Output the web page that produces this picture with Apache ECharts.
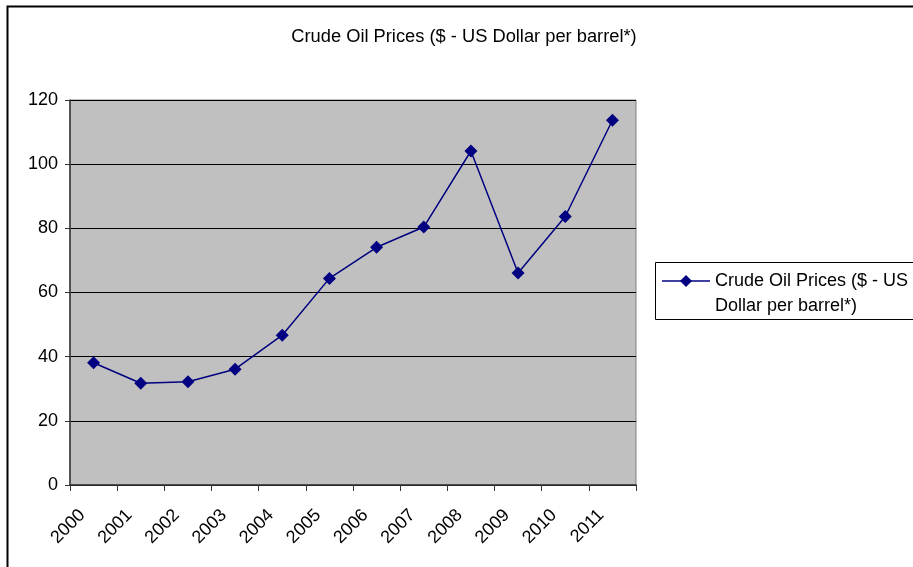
<!DOCTYPE html>
<html><head><meta charset="utf-8">
<script src="https://cdn.jsdelivr.net/npm/echarts@6/dist/echarts.min.js"></script>
<style>html,body{margin:0;padding:0;background:#fff}#c{width:913px;height:567px}</style>
</head><body><div id="c"></div>
<script>
const years = ['2000','2001','2002','2003','2004','2005','2006','2007','2008','2009','2010','2011'];
const prices = [38.1, 31.7, 32.2, 36.1, 46.7, 64.4, 74.1, 80.4, 104.1, 66.1, 83.7, 113.7];
const seriesName = 'Crude Oil Prices ($ - US Dollar per barrel*)';
const legendLabel = 'Crude Oil Prices ($ - US\nDollar per barrel*)';
const yTicks = [0, 20, 40, 60, 80, 100, 120];

const chart = echarts.init(document.getElementById('c'));
const font = 'Liberation Sans, Arial, sans-serif';
chart.setOption({
  animation: false,
  backgroundColor: '#fff',
  graphic: [
    {type:'rect', shape:{x:7.5,y:6.5,width:1000,height:1000}, style:{fill:'none', stroke:'#000', lineWidth:2}, z:100},
    {type:'rect', shape:{x:655.5,y:262.5,width:300,height:57}, style:{fill:'#fff', stroke:'#000', lineWidth:1}, z:5},
    {type:'line', shape:{x1:662,y1:281,x2:710,y2:281}, style:{stroke:'#000080', lineWidth:1.5}, z:6},
    {type:'polygon', shape:{points:[[686,275],[692,281],[686,287],[680,281]]}, style:{fill:'#000080'}, z:6},
    {type:'text', x:715, y:268.5, style:{text:legendLabel, font:'18px ' + font, fill:'#000', lineHeight:25, verticalAlign:'top'}, z:6}
  ],
  title: {
    text: seriesName, left: 464, top: 28, textAlign: 'center', padding: 0,
    textStyle: {fontFamily: font, fontSize: 18.3, fontWeight: 'normal', color: '#000'}
  },
  grid: {left: 70, right: 277, top: 100, bottom: 82, show: true, backgroundColor: '#c0c0c0', borderColor: '#808080', borderWidth: 1},
  xAxis: {
    type: 'category', data: years, boundaryGap: true,
    axisLine: {lineStyle: {color: '#333', width: 1.5}},
    axisTick: {show: true, length: 6, lineStyle: {color: '#333'}},
    axisLabel: {rotate: 45, fontFamily: font, fontSize: 18, color: '#000', margin: 16, padding: [0, 16, 0, 0]}
  },
  yAxis: {
    type: 'value', min: yTicks[0], max: yTicks[yTicks.length-1], interval: 20,
    axisLine: {show: true, lineStyle: {color: '#333', width: 1.5}},
    axisTick: {show: true, length: 5, lineStyle: {color: '#333'}},
    axisLabel: {fontFamily: font, fontSize: 18, color: '#000', margin: 12},
    splitLine: {lineStyle: {color: '#000', width: 1}}
  },
  series: [{
    name: seriesName, type: 'line', data: prices,
    symbol: 'diamond', symbolSize: [13, 13],
    lineStyle: {color: '#000080', width: 1.5},
    itemStyle: {color: '#000080'}
  }]
});
</script></body></html>
